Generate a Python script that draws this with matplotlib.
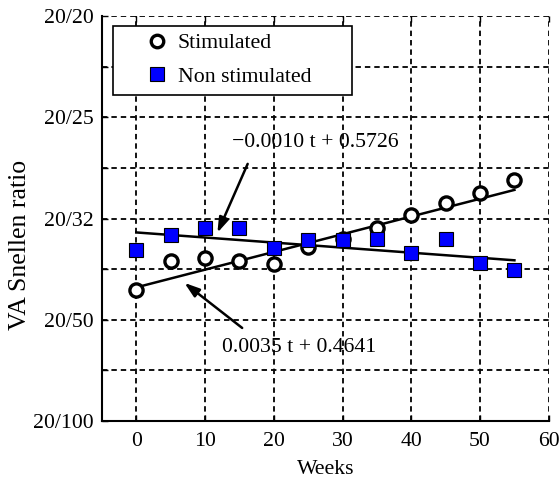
import numpy as np
import matplotlib
matplotlib.use("Agg")
import matplotlib.pyplot as plt
from matplotlib.lines import Line2D
from matplotlib.patches import Rectangle

weeks = [0, 5, 10, 15, 20, 25, 30, 35, 40, 45, 50, 55]
stimulated = [0.459, 0.516, 0.523, 0.517, 0.510, 0.544, 0.560, 0.581, 0.607, 0.631, 0.651, 0.676]
non_stimulated = [0.538, 0.568, 0.581, 0.581, 0.542, 0.558, 0.558, 0.560, 0.532, 0.560, 0.512, 0.498]
fit_stim = (0.0035, 0.4641)
fit_non = (-0.0010, 0.5726)
ytick_vals = [0.2, 0.4, 0.6, 0.8, 1.0]
ytick_labels = ["20/100", "20/50", "20/32", "20/25", "20/20"]
xtick_vals = [0, 10, 20, 30, 40, 50, 60]

plt.rcParams['font.family'] = ['Liberation Serif', 'DejaVu Serif']
fs = 15.7

fig = plt.figure(figsize=(5.6, 4.78), dpi=100)
ax = fig.add_axes([0.182, 0.119, 0.798, 0.8475])
ax.set_xlim(-5, 60)
ax.set_ylim(0.2, 1.0)

# grid
ax.set_xticks(xtick_vals)
ax.set_yticks(ytick_vals)
ax.set_yticklabels(ytick_labels)
ax.set_yticks(np.arange(0.3, 1.0, 0.2), minor=True)
ax.grid(True, which='both', color='black', linestyle=(0, (3, 2.2)), linewidth=1.3)
ax.set_axisbelow(True)
ax.spines['top'].set_visible(False)
ax.spines['right'].set_visible(False)
ax.spines['left'].set_linewidth(1.5)
ax.spines['bottom'].set_linewidth(1.5)
ax.tick_params(which='both', direction='in', length=4, width=1, top=True, right=False, labelsize=fs)
ax.tick_params(axis='x', pad=8)
ax.tick_params(axis='y', pad=6)

t = np.array([weeks[0], weeks[-1]])
ax.plot(t, fit_stim[0] * t + fit_stim[1], color='black', lw=1.8, zorder=3)
ax.plot(t, fit_non[0] * t + fit_non[1], color='black', lw=1.8, zorder=3)

ax.plot(weeks, stimulated, linestyle='none', marker='o', markersize=9.5, markerfacecolor='white',
        markeredgecolor='black', markeredgewidth=2.4, zorder=4)
ax.plot(weeks, non_stimulated, linestyle='none', marker='s', markersize=10, markerfacecolor='#0000ff',
        markeredgecolor='black', markeredgewidth=0.8, zorder=5)

arrowprops = dict(arrowstyle='-|>,head_length=0.9,head_width=0.3', color='black', lw=1.8, shrinkA=0, shrinkB=0)
ax.annotate('', xy=(11.8, 0.572), xytext=(16.2, 0.708), arrowprops=arrowprops, zorder=6)
ax.text(26.0, 0.751, '\u22120.0010 t + 0.5726', fontsize=fs, ha='center', va='center', zorder=6)
ax.annotate('', xy=(7.0, 0.473), xytext=(15.4, 0.384), arrowprops=arrowprops, zorder=6)
ax.text(23.7, 0.346, '0.0035 t + 0.4641', fontsize=fs, ha='center', va='center', zorder=6)

# legend frame (MATLAB-like, with extra right padding)
frame = Rectangle((0.0246, 0.805), 0.534, 0.170, transform=ax.transAxes, facecolor='white',
                  edgecolor='black', linewidth=1.2, zorder=7)
ax.add_patch(frame)
handles = [
    Line2D([], [], linestyle='none', marker='o', markersize=9, markerfacecolor='white',
           markeredgecolor='black', markeredgewidth=2.4),
    Line2D([], [], linestyle='none', marker='s', markersize=10, markerfacecolor='#0000ff',
           markeredgecolor='black', markeredgewidth=0.8),
]
leg = ax.legend(handles, ['Stimulated', 'Non stimulated'], loc='upper left',
                bbox_to_anchor=(0.07, 0.985), borderaxespad=0, fontsize=fs, frameon=False,
                handletextpad=0.35, handlelength=1.2, borderpad=0.5, labelspacing=0.6)
leg.set_zorder(8)

ax.set_xlabel('Weeks', fontsize=fs, labelpad=6)
fig.text(20 / 560, 1 - 245 / 478, 'VA Snellen ratio', fontsize=18.5, rotation=90,
         ha='center', va='center')

fig.savefig('out.png', dpi=100)
